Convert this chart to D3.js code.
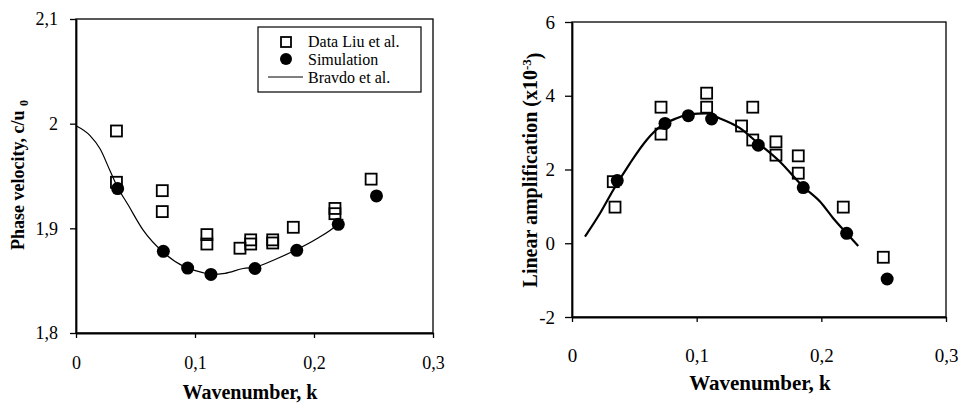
<!DOCTYPE html>
<html>
<head>
<meta charset="utf-8">
<script src="https://cdn.jsdelivr.net/npm/d3@7"></script>
<style>
  html, body { margin: 0; padding: 0; background: #fff; }
  svg { display: block; }
  text { font-family: "Liberation Serif", "Times New Roman", serif; fill: #000; }
</style>
</head>
<body>
<svg id="chart" width="961" height="403"></svg>
<script>
const SERIF = '"Liberation Serif", "Times New Roman", serif';

// ---- Phase velocity panel ----
const phaseLiuK = [0.034, 0.034, 0.0725, 0.0725, 0.110, 0.110, 0.1378, 0.1468, 0.1468, 0.1653, 0.1653, 0.1826, 0.2176, 0.2176, 0.2480];
const phaseLiuC = [1.993, 1.944, 1.936, 1.916, 1.894, 1.885, 1.881, 1.889, 1.885, 1.889, 1.886, 1.901, 1.919, 1.914, 1.947];
const phaseSimK = [0.035, 0.0734, 0.0938, 0.1134, 0.1504, 0.1855, 0.2204, 0.2525];
const phaseSimC = [1.938, 1.878, 1.862, 1.856, 1.8616, 1.879, 1.9038, 1.931];
const phaseBravdoK = [0, 0.0118, 0.0202, 0.0286, 0.0342, 0.044, 0.0566, 0.0734, 0.0916, 0.1056, 0.114, 0.1252, 0.1406, 0.1504, 0.1687, 0.1855, 0.2023, 0.2191, 0.2246];
const phaseBravdoC = [1.998, 1.9886, 1.976, 1.955, 1.941, 1.922, 1.898, 1.877, 1.863, 1.858, 1.856, 1.857, 1.8616, 1.863, 1.871, 1.8797, 1.890, 1.903, 1.909];

// ---- Linear amplification panel (x10^-3) ----
const ampLiuK = [0.0331, 0.0345, 0.0714, 0.0714, 0.108, 0.108, 0.136, 0.145, 0.145, 0.1636, 0.1636, 0.1815, 0.1815, 0.2176, 0.2497];
const ampLiuA = [1.67, 0.98, 3.69, 2.96, 4.07, 3.69, 3.18, 3.69, 2.80, 2.75, 2.39, 2.37, 1.90, 0.98, -0.38];
const ampSimK = [0.0363, 0.0746, 0.0933, 0.112, 0.1494, 0.1855, 0.2203, 0.2528];
const ampSimA = [1.70, 3.25, 3.46, 3.37, 2.66, 1.51, 0.27, -0.97];
const ampBravdoK = [0.0104, 0.0225, 0.0331, 0.0465, 0.0599, 0.0706, 0.084, 0.0946, 0.108, 0.116, 0.1347, 0.148, 0.1668, 0.1855, 0.1989, 0.2095, 0.2203, 0.2296];
const ampBravdoA = [0.178, 0.812, 1.444, 2.168, 2.80, 3.16, 3.39, 3.50, 3.52, 3.42, 3.12, 2.75, 2.21, 1.53, 1.13, 0.68, 0.27, -0.075];

// ---- Ticks ----
const kTicks = [0, 0.1, 0.2, 0.3];
const kTickLabels = ["0", "0,1", "0,2", "0,3"];
const phaseTicks = [1.8, 1.9, 2.0, 2.1];
const phaseTickLabels = ["1,8", "1,9", "2", "2,1"];
const ampTicks = [-2, 0, 2, 4, 6];
const ampTickLabels = ["-2", "0", "2", "4", "6"];

const legendLabels = ["Data Liu et al.", "Simulation", "Bravdo et al."];

const svg = d3.select("#chart");

function zip(xs, ys) { return xs.map((x, i) => [x, ys[i]]); }

function panel(cfg) {
  const g = svg.append("g");
  const x = d3.scaleLinear().domain([0, 0.3]).range([cfg.left, cfg.right]);
  const y = d3.scaleLinear().domain(cfg.yDomain).range([cfg.bottom, cfg.top]);

  // frame
  g.append("rect")
    .attr("x", cfg.left).attr("y", cfg.top)
    .attr("width", cfg.right - cfg.left).attr("height", cfg.bottom - cfg.top)
    .attr("fill", "none").attr("stroke", "#000").attr("stroke-width", 1.3);

  const xAxis = d3.axisBottom(x).tickValues(kTicks)
    .tickFormat((d, i) => kTickLabels[i])
    .tickSize(5).tickSizeOuter(0).tickPadding(cfg.xPad);
  const yAxis = d3.axisLeft(y).tickValues(cfg.yTicks)
    .tickFormat((d, i) => cfg.yTickLabels[i])
    .tickSize(cfg.yTickSize).tickSizeOuter(0).tickPadding(cfg.yPad);

  const gx = g.append("g").attr("transform", `translate(0,${cfg.bottom})`).call(xAxis);
  const gy = g.append("g").attr("transform", `translate(${cfg.left},0)`).call(yAxis);
  [gx, gy].forEach(a => {
    a.attr("font-family", SERIF);
    a.selectAll("path").attr("stroke", "#000").attr("stroke-width", 1.8);
    a.selectAll("line").attr("stroke", "#000").attr("stroke-width", 1.3);
    a.selectAll("text").style("font-family", SERIF)
      .style("font-size", cfg.tickFont + "px").attr("fill", "#000");
  });

  // model curve
  const line = d3.line().x(d => x(d[0])).y(d => y(d[1])).curve(d3.curveMonotoneX);
  g.append("path").datum(zip(cfg.lineK, cfg.lineV))
    .attr("d", line).attr("fill", "none").attr("stroke", "#000")
    .attr("stroke-width", cfg.lineWidth);

  // measured data: open squares
  const s = 11;
  g.selectAll(".sq").data(zip(cfg.liuK, cfg.liuV)).join("rect")
    .attr("x", d => x(d[0]) - s / 2).attr("y", d => y(d[1]) - s / 2)
    .attr("width", s).attr("height", s)
    .attr("fill", "none").attr("stroke", "#000").attr("stroke-width", 1.8);

  // simulation: filled circles
  g.selectAll(".dot").data(zip(cfg.simK, cfg.simV)).join("circle")
    .attr("cx", d => x(d[0])).attr("cy", d => y(d[1])).attr("r", 6.5)
    .attr("fill", "#000");

  return { g, x, y };
}

panel({
  left: 76, right: 433, top: 19, bottom: 333,
  yDomain: [1.8, 2.1], yTicks: phaseTicks, yTickLabels: phaseTickLabels,
  yTickSize: 6, yPad: 12, xPad: 18, tickFont: 18,
  lineK: phaseBravdoK, lineV: phaseBravdoC, lineWidth: 1.2,
  liuK: phaseLiuK, liuV: phaseLiuC, simK: phaseSimK, simV: phaseSimC
});

panel({
  left: 572, right: 946, top: 22, bottom: 317,
  yDomain: [-2, 6], yTicks: ampTicks, yTickLabels: ampTickLabels,
  yTickSize: 7, yPad: 10, xPad: 27, tickFont: 19,
  lineK: ampBravdoK, lineV: ampBravdoA, lineWidth: 2.2,
  liuK: ampLiuK, liuV: ampLiuA, simK: ampSimK, simV: ampSimA
});

// axis titles
svg.append("text").attr("x", 250).attr("y", 399).attr("text-anchor", "middle")
  .style("font-family", SERIF).style("font-size", "20px").style("font-weight", "bold")
  .text("Wavenumber, k");
svg.append("text").attr("x", 760).attr("y", 390).attr("text-anchor", "middle")
  .style("font-family", SERIF).style("font-size", "21px").style("font-weight", "bold")
  .text("Wavenumber, k");

const ly = svg.append("text").attr("transform", "translate(24,175) rotate(-90)")
  .attr("text-anchor", "middle").style("font-family", SERIF)
  .style("font-size", "18px").style("font-weight", "bold");
ly.append("tspan").text("Phase velocity, c/u ");
ly.append("tspan").attr("dy", "0.3em").style("font-size", "12px").text("0");

const ry = svg.append("text").attr("transform", "translate(537,170) rotate(-90)")
  .attr("text-anchor", "middle").style("font-family", SERIF)
  .style("font-size", "20px").style("font-weight", "bold");
ry.append("tspan").text("Linear amplification (x10");
ry.append("tspan").attr("dy", "-0.5em").style("font-size", "13px").text("-3");
ry.append("tspan").attr("dy", "0.5em").text(")");

// legend
const lg = svg.append("g");
lg.append("rect").attr("x", 258).attr("y", 27).attr("width", 163).attr("height", 65)
  .attr("fill", "#fff").attr("stroke", "#000").attr("stroke-width", 1.2);
lg.append("rect").attr("x", 281).attr("y", 37).attr("width", 10).attr("height", 10)
  .attr("fill", "none").attr("stroke", "#000").attr("stroke-width", 1.8);
lg.append("circle").attr("cx", 286).attr("cy", 59).attr("r", 6).attr("fill", "#000");
lg.append("line").attr("x1", 268).attr("x2", 303).attr("y1", 77).attr("y2", 77)
  .attr("stroke", "#000").attr("stroke-width", 1);
lg.selectAll(".lt").data(legendLabels).join("text")
  .attr("x", 308).attr("y", (d, i) => 47 + i * 18)
  .style("font-family", SERIF).style("font-size", "16px").text(d => d);
</script>
</body>
</html>
